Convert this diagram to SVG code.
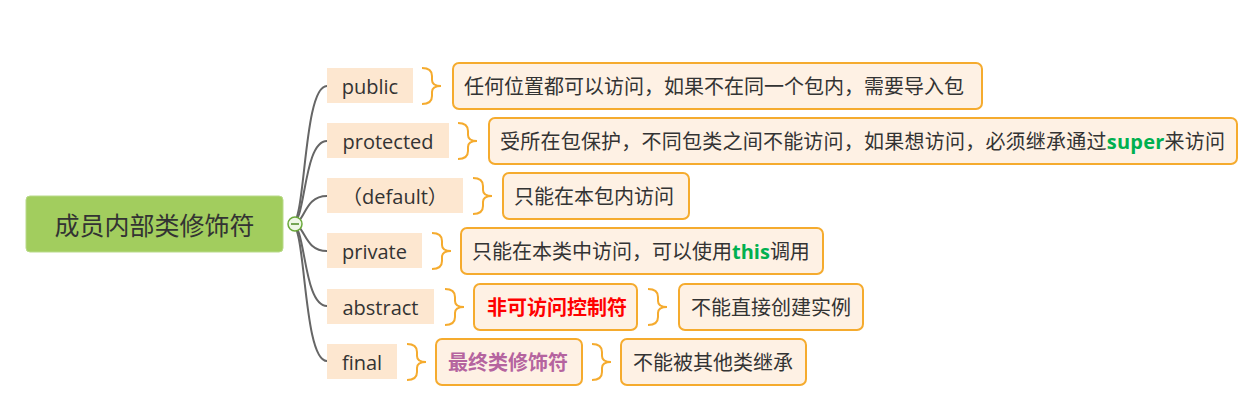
<svg xmlns="http://www.w3.org/2000/svg" width="1243" height="410" viewBox="0 0 1243 410">
<style>
text{font-family:"Open Sans","Noto Sans CJK SC",sans-serif;fill:#333;dominant-baseline:central}
.n{fill:#fde7d0}
.nt{font-size:20px}
.d{fill:#fef1e4;stroke:#f5ab2e;stroke-width:2}
.dt{font-size:20px}
.br{fill:none;stroke:#f5ab2e;stroke-width:2}
.c{fill:none;stroke:#666;stroke-width:2}
.g{fill:#00b050;font-weight:bold}
</style>
<rect width="1243" height="410" fill="#fff"/>
<g id="connectors">
<path class="c" d="M292 224 C306 224 303 86 327 86"/>
<path class="c" d="M292 224 C306 224 303 141 327 141"/>
<path class="c" d="M292 224 C306 224 303 196 327 196"/>
<path class="c" d="M292 224 C306 224 303 251 327 251"/>
<path class="c" d="M292 224 C306 224 303 306 327 306"/>
<path class="c" d="M292 224 C306 224 303 361 327 361"/>
</g>
<g id="root">
<rect x="26" y="196" width="257" height="56" rx="4" fill="#a2cd5e" stroke="#b9da8a" stroke-width="1"/>
<text x="154.5" y="225" font-size="25" text-anchor="middle">成员内部类修饰符</text>
<circle cx="295" cy="224" r="7" fill="#eef6e6" stroke="#6aa83a" stroke-width="1.5"/>
<line x1="291" y1="224" x2="299" y2="224" stroke="#4d8a25" stroke-width="1.5"/>
</g>
<g id="public">
<rect class="n" x="327" y="68" width="86" height="35"/>
<text class="nt" x="370" y="86" text-anchor="middle">public</text>
<path class="br" d="M422 68 Q432 68 432 76 L432 80 Q432 86 441 86 Q432 86 432 92 L432 96 Q432 104 422 104"/>
<rect class="d" x="453" y="63" width="529" height="46" rx="6"/>
<text class="dt" x="464" y="86">任何位置都可以访问，如果不在同一个包内，需要导入包</text>
</g>
<g id="protected">
<rect class="n" x="327" y="123" width="122" height="35"/>
<text class="nt" x="388" y="141" text-anchor="middle">protected</text>
<path class="br" d="M458 123 Q468 123 468 131 L468 135 Q468 141 477 141 Q468 141 468 147 L468 151 Q468 159 458 159"/>
<rect class="d" x="489" y="118" width="748" height="46" rx="6"/>
<text class="dt" x="500" y="141" textLength="725">受所在包保护，不同包类之间不能访问，如果想访问，必须继承通过<tspan class="g">super</tspan>来访问</text>
</g>
<g id="default">
<rect class="n" x="327" y="178" width="136" height="35"/>
<text class="nt" x="395" y="196" text-anchor="middle">（default）</text>
<path class="br" d="M473 178 Q483 178 483 186 L483 190 Q483 196 492 196 Q483 196 483 202 L483 206 Q483 214 473 214"/>
<rect class="d" x="503" y="173" width="186" height="46" rx="6"/>
<text class="dt" x="514" y="196">只能在本包内访问</text>
</g>
<g id="private">
<rect class="n" x="327" y="233" width="95" height="35"/>
<text class="nt" x="374.5" y="251" text-anchor="middle">private</text>
<path class="br" d="M432 233 Q442 233 442 241 L442 245 Q442 251 451 251 Q442 251 442 257 L442 261 Q442 269 432 269"/>
<rect class="d" x="461" y="228" width="362" height="46" rx="6"/>
<text class="dt" x="472" y="251">只能在本类中访问，可以使用<tspan class="g">this</tspan>调用</text>
</g>
<g id="abstract">
<rect class="n" x="327" y="289" width="107" height="35"/>
<text class="nt" x="380.5" y="307" text-anchor="middle">abstract</text>
<path class="br" d="M445 289 Q455 289 455 297 L455 301 Q455 307 464 307 Q455 307 455 313 L455 317 Q455 325 445 325"/>
<rect class="d" x="474" y="284" width="163" height="46" rx="6"/>
<text class="dt" x="487" y="307" font-weight="bold" style="fill:#ff0000">非可访问控制符</text>
<path class="br" d="M648 289 Q658 289 658 297 L658 301 Q658 307 667 307 Q658 307 658 313 L658 317 Q658 325 648 325"/>
<rect class="d" x="679" y="284" width="184" height="46" rx="6"/>
<text class="dt" x="691" y="307">不能直接创建实例</text>
</g>
<g id="final">
<rect class="n" x="327" y="344" width="70" height="35"/>
<text class="nt" x="362" y="362" text-anchor="middle">final</text>
<path class="br" d="M407 344 Q417 344 417 352 L417 356 Q417 362 426 362 Q417 362 417 368 L417 372 Q417 380 407 380"/>
<rect class="d" x="436" y="339" width="146" height="46" rx="6"/>
<text class="dt" x="448" y="362" font-weight="bold" style="fill:#b5649f">最终类修饰符</text>
<path class="br" d="M592 344 Q602 344 602 352 L602 356 Q602 362 611 362 Q602 362 602 368 L602 372 Q602 380 592 380"/>
<rect class="d" x="621" y="339" width="185" height="46" rx="6"/>
<text class="dt" x="633" y="362">不能被其他类继承</text>
</g>
</svg>
